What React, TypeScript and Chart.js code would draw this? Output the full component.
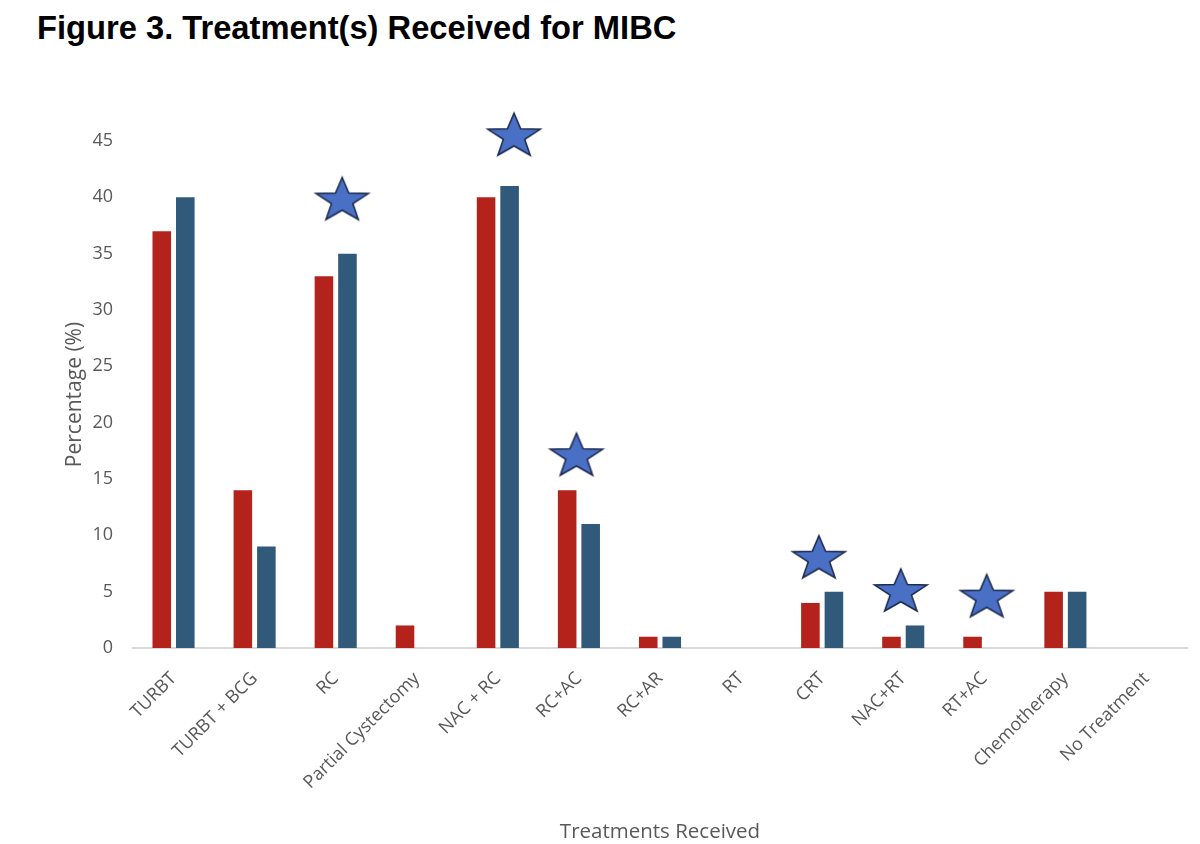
import React, { useEffect, useRef } from "react";
import { Chart, registerables } from "chart.js";

Chart.register(...registerables);

const categories = [
  "TURBT",
  "TURBT + BCG",
  "RC",
  "Partial Cystectomy",
  "NAC + RC",
  "RC+AC",
  "RC+AR",
  "RT",
  "CRT",
  "NAC+RT",
  "RT+AC",
  "Chemotherapy",
  "No Treatment",
];

const redSeries = [37, 14, 33, 2, 40, 14, 1, 0, 4, 1, 1, 5, 0];
const blueSeries = [40, 9, 35, 0, 41, 11, 1, 0, 5, 2, 0, 5, 0];

// significance markers: position along the category axis (index units) and height in %
const starX = [2.08, 4.2, 4.97, 7.96, 8.97, 10.03];
const starY = [39.9, 45.6, 17.2, 8.1, 5.15, 4.65];

const yTicks = [0, 5, 10, 15, 20, 25, 30, 35, 40, 45];

const RED = "#b3231b";
const BLUE = "#30597a";
const GREY = "#595959";

function makeStar(): HTMLCanvasElement {
  const w = 60;
  const h = 48;
  const c = document.createElement("canvas");
  c.width = w;
  c.height = h;
  const ctx = c.getContext("2d")!;
  const rx = 27.5;
  const ry = 23.2;
  const inner = 0.41;
  const cx = w / 2;
  // centre the star's bounding box inside the bitmap
  const cy = h / 2 + (ry - ry * Math.cos(Math.PI / 5)) / 2;
  ctx.beginPath();
  for (let i = 0; i < 10; i++) {
    const a = -Math.PI / 2 + (i * Math.PI) / 5;
    const f = i % 2 === 0 ? 1 : inner;
    const x = cx + Math.cos(a) * rx * f;
    const y = cy + Math.sin(a) * ry * f;
    if (i === 0) ctx.moveTo(x, y);
    else ctx.lineTo(x, y);
  }
  ctx.closePath();
  ctx.fillStyle = "#4a70c6";
  ctx.fill();
  ctx.lineWidth = 1.6;
  ctx.strokeStyle = "#1d2a4d";
  ctx.stroke();
  return c;
}

// draws the significance stars at data positions given through the chart scales
const starPlugin = {
  id: "starMarkers",
  afterDatasetsDraw(chart: any) {
    const img = (chart as any).$starImg as HTMLCanvasElement;
    if (!img) return;
    const xs = chart.scales.x;
    const ys = chart.scales.y;
    const ctx = chart.ctx;
    ctx.save();
    starX.forEach((xv, i) => {
      const px = xs.getPixelForValue(xv);
      const py = ys.getPixelForValue(starY[i]);
      ctx.drawImage(img, px - img.width / 2, py - img.height / 2);
    });
    ctx.restore();
  },
};

export default function App() {
  const canvasRef = useRef<HTMLCanvasElement | null>(null);

  useEffect(() => {
    if (!canvasRef.current) return;
    const chart = new Chart(canvasRef.current, {
      type: "bar",
      data: {
        labels: categories,
        datasets: [
          {
            label: "Group A",
            data: redSeries,
            backgroundColor: RED,
            categoryPercentage: 0.58,
            barPercentage: 0.79,
          },
          {
            label: "Group B",
            data: blueSeries,
            backgroundColor: BLUE,
            categoryPercentage: 0.58,
            barPercentage: 0.79,
          },
        ],
      },
      plugins: [starPlugin],
      options: {
        responsive: false,
        animation: false,
        devicePixelRatio: 1,
        layout: { padding: { left: 50, right: 13, top: 141, bottom: 0 } },
        plugins: {
          legend: { display: false },
          tooltip: { enabled: false },
          title: { display: false },
        },
        scales: {
          x: {
            type: "category",
            grid: { display: false, drawTicks: false },
            border: { display: true, color: "#d9d9d9", width: 2 },
            ticks: {
              color: GREY,
              font: { family: "Open Sans", size: 18 },
              maxRotation: 45,
              minRotation: 45,
              padding: 20,
              autoSkip: false,
            },
            title: {
              display: true,
              text: "Treatments Received",
              color: GREY,
              font: { family: "Open Sans", size: 20.5 },
              padding: { top: 4, bottom: 0 },
            },
            afterFit: (scale: any) => {
              scale.height = 844 - 648;
            },
          },
          y: {
            min: 0,
            max: 45,
            grid: { display: false, drawTicks: false },
            border: { display: false },
            afterBuildTicks: (scale: any) => {
              scale.ticks = yTicks.map((v) => ({ value: v }));
            },
            ticks: {
              color: GREY,
              font: { family: "Open Sans", size: 18 },
              padding: 20,
            },
            title: {
              display: true,
              text: "Percentage (%)",
              color: GREY,
              font: { family: "Open Sans", size: 21 },
              padding: { top: 12, bottom: 0 },
            },
            afterFit: (scale: any) => {
              scale.width = 133 - 50;
            },
          },
        },
      },
    });
    (chart as any).$starImg = makeStar();
    chart.draw();
    return () => chart.destroy();
  }, []);

  return (
    <div
      style={{
        position: "absolute",
        left: 0,
        top: 0,
        width: 1200,
        height: 844,
        background: "#ffffff",
      }}
    >
      <div
        style={{
          position: "absolute",
          left: 37,
          top: 9,
          fontFamily: "'Liberation Sans', Arial, sans-serif",
          fontWeight: "bold",
          fontSize: 32.7,
          color: "#000000",
          whiteSpace: "nowrap",
        }}
      >
        Figure 3. Treatment(s) Received for MIBC
      </div>
      <canvas
        ref={canvasRef}
        width={1200}
        height={844}
        style={{ position: "absolute", left: 0, top: 0 }}
      />
    </div>
  );
}
